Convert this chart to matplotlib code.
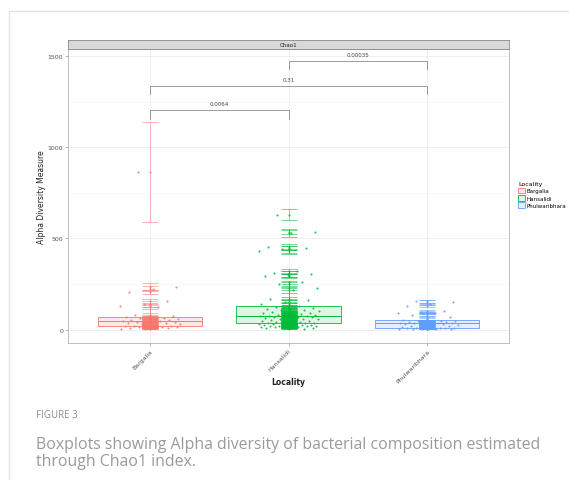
import numpy as np
import matplotlib.pyplot as plt
from matplotlib.patches import Rectangle, Patch


# Figure size in pixels
W_PX = 569
H_PX = 481
DPI = 100

# Groups
LOCALITIES = ["Bargalia", "Hansalidi", "Phulwaribhara"]
COLOURS = ["#F8766D", "#00BA38", "#619CFF"]
FILLS = ["#FDE9E7", "#DFF6E6", "#E6EFFF"]

# Chao1 richness and its standard error per sample
bargalia_chao1 = [866, 235, 225, 205, 157, 140, 130, 125, 82, 74, 68, 66, 64, 62,
                  58, 55, 52, 50, 48, 46, 44, 42, 40, 38, 35, 33, 30, 28, 25, 22,
                  20, 18, 17, 15, 14, 12, 10, 9, 8, 5, 4]
bargalia_se = [275, 18, 15, 12, 10, 14, 8, 12, 10, 6, 8, 5, 7, 6, 5, 6, 4, 5, 4,
               6, 3, 5, 4, 3, 4, 3, 5, 3, 2, 4, 3, 2, 3, 2, 2, 3, 2, 1, 2, 1, 1]

hansalidi_chao1 = [629, 535, 530, 452, 447, 440, 430, 322, 312, 305, 298, 292, 259,
                   250, 226, 215, 168, 160, 152, 140, 127, 122, 118, 115, 112, 108,
                   105, 100, 98, 95, 92, 90, 88, 85, 82, 80, 78, 76, 75, 74, 72, 70,
                   68, 66, 64, 62, 60, 58, 55, 52, 50, 48, 46, 44, 42, 40, 38, 37,
                   36, 35, 33, 31, 30, 28, 27, 26, 25, 24, 22, 21, 20, 18, 17, 16,
                   15, 14, 12, 10, 8, 6, 4]
hansalidi_se = [30, 12, 20, 15, 10, 18, 14, 12, 10, 15, 9, 11, 8, 10, 9, 12, 8, 7,
                9, 6, 7, 6, 5, 8, 6, 5, 7, 4, 6, 5, 4, 6, 5, 3, 4, 5, 3, 4, 3, 4,
                3, 4, 3, 2, 4, 3, 2, 3, 4, 2, 3, 2, 3, 2, 2, 3, 2, 2, 1, 2,
                2, 1, 2, 2, 1, 2, 1, 1, 2, 1, 1, 2, 1, 1, 1, 1, 1, 1, 1, 0, 0]

phulwaribhara_chao1 = [154, 150, 138, 130, 100, 95, 93, 88, 80, 70, 58, 50, 48, 46,
                       45, 43, 42, 40, 38, 37, 36, 34, 33, 31, 30, 28, 26, 24, 22,
                       20, 18, 15, 13, 11, 10, 9, 8, 7, 6, 5, 4, 3, 3, 2, 1]
phulwaribhara_se = [8, 10, 6, 7, 5, 6, 4, 5, 6, 4, 5, 3, 4, 3, 4, 3, 3, 2, 3, 2,
                    3, 2, 2, 3, 2, 2, 2, 1, 2, 1, 2, 1, 1, 1, 1, 1, 1, 1, 0, 1,
                    0, 0, 0, 0, 0]

CHAO1 = [bargalia_chao1, hansalidi_chao1, phulwaribhara_chao1]
SE = [bargalia_se, hansalidi_se, phulwaribhara_se]

# Pairwise tests (group a, group b, p-value)
COMPARISONS = [(0, 1, "0.0064"), (0, 2, "0.31"), (1, 2, "0.00035")]
BRACKET_Y = [1202, 1335, 1473]

Y_TICKS = [0, 500, 1000, 1500]
Y_MIN, Y_MAX = -74, 1539
X_MIN, X_MAX = 0.41, 3.59

GRID = "#EBEBEB"
TICK_GREY = "#555555"


def px_box(left, top, right, bottom):
    # pixel edges -> figure fraction rect
    return [left / W_PX, 1 - bottom / H_PX, (right - left) / W_PX, (bottom - top) / H_PX]


def jitter(n, width):
    # evenly spread horizontal offsets so points don't sit on one line
    frac = (np.arange(n) * 0.618034 + 0.31) % 1.0
    return (frac - 0.5) * 2 * width


def draw_panel(ax):
    positions = np.arange(1, len(LOCALITIES) + 1)

    for pos, vals, se, col, fill in zip(positions, CHAO1, SE, COLOURS, FILLS):
        vals = np.array(vals, dtype=float)
        se = np.array(se, dtype=float)
        ax.boxplot(vals, positions=[pos], widths=0.75, showfliers=False,
                   patch_artist=True, whis=1.5, zorder=2,
                   boxprops=dict(facecolor=fill, edgecolor=col, linewidth=0.6),
                   medianprops=dict(color=col, linewidth=0.7),
                   whiskerprops=dict(color=col, linewidth=0.5),
                   capprops=dict(linewidth=0))
        ax.errorbar(np.full(vals.size, pos), vals, yerr=se, fmt="none",
                    ecolor=col, elinewidth=0.4, capsize=5.5, capthick=0.45,
                    alpha=0.85, zorder=3)
        ax.scatter(np.full(vals.size, pos), vals, s=2, color=col,
                   linewidths=0, alpha=0.9, zorder=4)
        ax.scatter(pos + jitter(vals.size, 0.22), vals, s=2.2, color=col,
                   linewidths=0, alpha=0.9, zorder=4)

    # significance brackets
    drop = 45
    for (a, b, label), y in zip(COMPARISONS, BRACKET_Y):
        xa, xb = positions[a], positions[b]
        ax.plot([xa, xa, xb, xb], [y - drop, y, y, y - drop],
                color="#666666", linewidth=0.45, zorder=3)
        ax.text((xa + xb) / 2, y + 22, label, ha="center", va="bottom",
                fontsize=4, color="#444444")

    ax.set_xlim(X_MIN, X_MAX)
    ax.set_ylim(Y_MIN, Y_MAX)
    ax.set_xticks(positions)
    ax.set_xticklabels(LOCALITIES, rotation=45, ha="right",
                       rotation_mode="anchor", fontsize=4.5, color=TICK_GREY)
    ax.set_yticks(Y_TICKS)
    ax.set_yticklabels([str(t) for t in Y_TICKS], fontsize=4.5, color=TICK_GREY)
    ax.set_yticks([250, 750, 1250], minor=True)
    ax.tick_params(which="major", length=2, width=0.5, color="#999999", pad=1.5)
    ax.tick_params(which="minor", length=0)
    ax.grid(which="major", color=GRID, linewidth=0.6, zorder=0)
    ax.grid(which="minor", color="#F5F5F5", linewidth=0.4, zorder=0)
    ax.set_axisbelow(True)
    for spine in ax.spines.values():
        spine.set_color("#B5B5B5")
        spine.set_linewidth(0.6)

    ax.set_xlabel("Locality", fontsize=5.5, fontweight="bold", color="#222222")
    ax.set_ylabel("Alpha Diversity Measure", fontsize=5.5, color="#222222")
    ax.xaxis.set_label_coords(0.5, -0.115)
    ax.yaxis.set_label_coords(-0.05, 0.5)


def main():
    fig = plt.figure(figsize=(W_PX / DPI, H_PX / DPI), dpi=DPI)
    fig.patch.set_facecolor("white")

    # card outline, open at the right and bottom edges
    fig.add_artist(Rectangle((9 / W_PX, -0.1), 1.0, 1.1 - 12 / H_PX,
                             transform=fig.transFigure, fill=False,
                             edgecolor="#E4E4E4", linewidth=1.0))

    ax = fig.add_axes(px_box(68, 50, 509, 344))
    draw_panel(ax)

    # facet strip
    strip = fig.add_axes(px_box(68, 41, 509, 50))
    strip.set_facecolor("#D9D9D9")
    strip.set_xticks([])
    strip.set_yticks([])
    for spine in strip.spines.values():
        spine.set_color("#8A8A8A")
        spine.set_linewidth(0.6)
    strip.text(0.5, 0.5, "Chao1", ha="center", va="center", fontsize=4,
               color="#1A1A1A", transform=strip.transAxes)

    handles = [Patch(facecolor=f, edgecolor=c, linewidth=0.6)
               for f, c in zip(FILLS, COLOURS)]
    fig.legend(handles, LOCALITIES, title="Locality", loc="upper left",
               bbox_to_anchor=(513 / W_PX, 1 - 177 / H_PX), frameon=False,
               fontsize=4, title_fontsize=4.5, handlelength=1.2,
               handleheight=1.2, handletextpad=0.4, labelspacing=0.3,
               alignment="left")

    fig.text(36 / W_PX, 1 - 416 / H_PX, "FIGURE 3", fontsize=7,
             color="#8C8C8C", va="center", family="Open Sans")
    fig.text(36 / W_PX, 1 - 453.5 / H_PX,
             "Boxplots showing Alpha diversity of bacterial composition estimated\n"
             "through Chao1 index.",
             fontsize=11.4, color="#9A9A9A", va="center", linespacing=1.05,
             family="Open Sans")

    fig.savefig("out.png", dpi=DPI)


if __name__ == "__main__":
    main()
